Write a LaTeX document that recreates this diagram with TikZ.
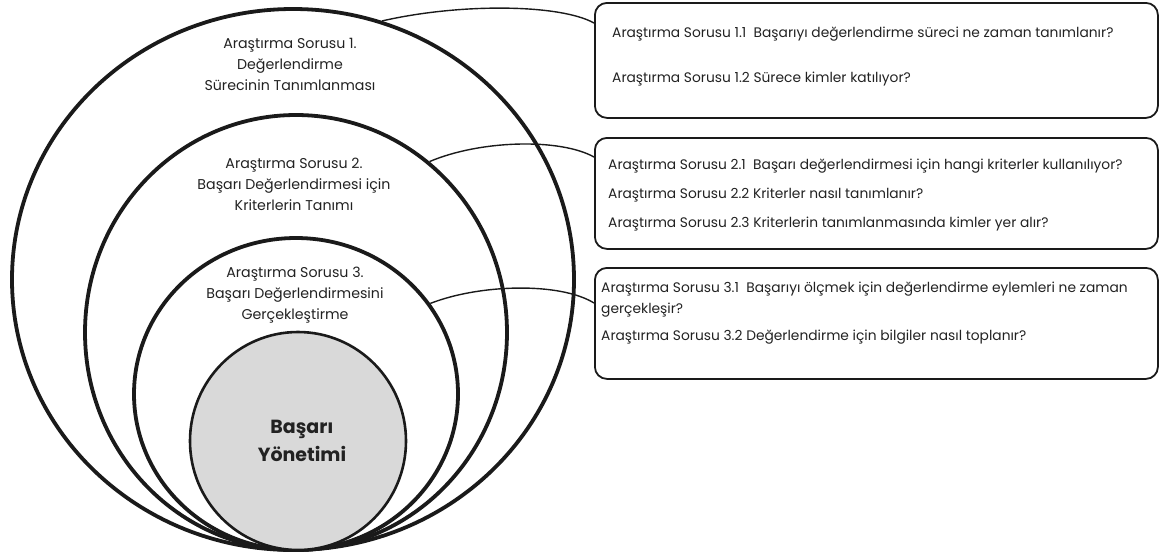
\documentclass[tikz,border=0pt]{standalone}
\usepackage{fontspec}
\setmainfont{Poppins}
\usetikzlibrary{shapes.geometric,calc}
\definecolor{ink}{HTML}{1A1A1A}
\definecolor{txt}{HTML}{222222}
\definecolor{core}{HTML}{D9D9D9}

\begin{document}
\begin{tikzpicture}[x=1pt,y=-1pt,
  ring/.style={draw=ink, line width=3.8pt, ellipse, inner sep=0pt},
  corering/.style={draw=ink, fill=core, line width=2.6pt, ellipse, inner sep=0pt},
  lbl/.style={align=center, text=txt, inner sep=0pt, font=\fontsize{14.2}{21}\selectfont},
  corelbl/.style={align=center, text=txt, inner sep=0pt, font=\fontsize{19}{28}\selectfont\bfseries},
  qbox/.style={draw=ink, line width=1.8pt, rounded corners=12pt, inner sep=0pt, anchor=north west, minimum width=563pt},
  qtext/.style={anchor=west, text=txt, inner sep=0pt, font=\fontsize{13.8}{16}\selectfont},
  link/.style={draw=ink, line width=1.4pt}]
\useasboundingbox (0,0) rectangle (1160,558);

% nested rings, all touching at the bottom
\node[ring, minimum width=562pt, minimum height=541pt] (E1) at (293,279.5) {};
\node[ring, minimum width=422pt, minimum height=435pt] (E2) at (296,332.5) {};
\node[ring, minimum width=324pt, minimum height=312pt] (E3) at (296,394) {};
\node[corering, minimum width=216pt, minimum height=218pt] (E4) at (298,441) {};

% ring captions
\node[lbl] (L1) at (290,64) {Araştırma Sorusu 1.\\Değerlendirme\\Sürecinin Tanımlanması};
\node[lbl] (L2) at (294,184) {Araştırma Sorusu 2.\\Başarı Değerlendirmesi için\\Kriterlerin Tanımı};
\node[lbl] (L3) at (295,295) {Araştırma Sorusu 3.\\Başarı Değerlendirmesini\\Gerçekleştirme};
\node[corelbl] (L4) at (302,441) {Başarı\\Yönetimi};

% question boxes
\node[qbox, minimum height=115pt] (B1) at (594,2) {};
\node[qbox, minimum height=111pt] (B2) at (594,137) {};
\node[qbox, minimum height=111pt] (B3) at (594,267) {};

\node[qtext] (Q11) at (612,34) {Araştırma Sorusu 1.1\ \ Başarıyı değerlendirme süreci ne zaman tanımlanır?};
\node[qtext] (Q12) at (612,79) {Araştırma Sorusu 1.2 Sürece kimler katılıyor?};
\node[qtext] (Q21) at (608,166) {Araştırma Sorusu 2.1\ \ Başarı değerlendirmesi için hangi kriterler kullanılıyor?};
\node[qtext] (Q22) at (608,195) {Araştırma Sorusu 2.2 Kriterler nasıl tanımlanır?};
\node[qtext] (Q23) at (608,224) {Araştırma Sorusu 2.3 Kriterlerin tanımlanmasında kimler yer alır?};
\node[qtext] (Q31) at (601,289) {Araştırma Sorusu 3.1\ \ Başarıyı ölçmek için değerlendirme eylemleri ne zaman};
\node[qtext] (Q31b) at (601,310) {gerçekleşir?};
\node[qtext] (Q32) at (601,337) {Araştırma Sorusu 3.2 Değerlendirme için bilgiler nasıl toplanır?};

% connectors from each ring to its box
\draw[link] (E1.71) .. controls (460,3) and (560,4) .. ([yshift=-21pt]B1.north west);
\draw[link] (E2.52) .. controls (480,140) and (560,138) .. ([yshift=-20pt]B2.north west);
\draw[link] (E3.34) .. controls (480,284) and (560,282) .. ([yshift=-36pt]B3.north west);
\end{tikzpicture}
\end{document}
